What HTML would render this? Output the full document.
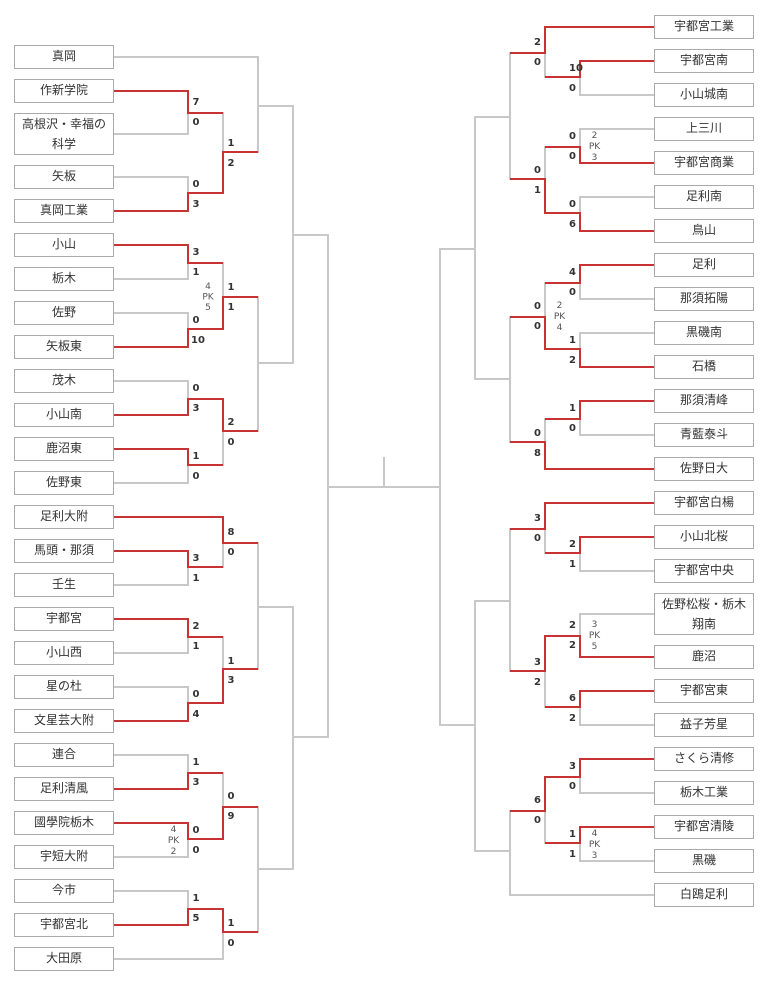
<!DOCTYPE html>
<html lang="ja">
<head>
<meta charset="utf-8">
<title>Tournament bracket</title>
<style>
html,body{margin:0;padding:0;background:#fff;}
svg{display:block;position:absolute;left:0;top:0;}
.g{fill:none;stroke:#c8c8c8;stroke-width:2;stroke-linecap:square;stroke-linejoin:miter;}
.r{fill:none;stroke:#c83232;stroke-width:2;stroke-linejoin:miter;}
rect{fill:#fff;stroke:#aaa;stroke-width:1;}
.t{font-family:"Liberation Sans","Noto Sans CJK JP",sans-serif;font-size:12px;fill:#333;text-anchor:middle;}
.s{font-family:"DejaVu Sans",sans-serif;font-size:10px;font-weight:bold;fill:#333;text-anchor:middle;}
.p{font-family:"DejaVu Sans",sans-serif;font-size:9px;fill:#555;text-anchor:middle;}
</style>
</head>
<body>
<svg xmlns="http://www.w3.org/2000/svg" width="771" height="983" viewBox="0 0 771 983">
<path class="g" d="M114 57H258V152M114 134H188V113M114 177H188V193M223 113V152M258 106H293M114 279H188V263M114 313H188V329M223 263V297M258 297V431M258 363H293M114 381H188V399M114 483H188V465M223 431V465M293 106V363M293 235H328M114 585H188V567M223 543V567M114 653H188V637M114 687H188V703M223 637V669M258 543V669M258 607H293M114 755H188V773M223 773V807M114 857H188V839M114 891H188V909M114 959H223V932M258 807V932M258 869H293M293 607V869M293 737H328M328 235V737M328 487H440M384 458V487M440 249V725"/>
<path class="g" d="M654 95H580V77M654 129H580V147M654 197H580V213M545 53V77M545 147V179M510 53V179M510 117H475M654 299H580V283M654 333H580V349M654 435H580V419M545 283V317M545 419V442M510 317V442M510 379H475M475 117V379M475 249H440M545 529V553M654 571H580V553M654 614H580V636M654 725H580V707M545 671V707M510 529V671M510 601H475M654 793H580V777M654 861H580V843M545 811V843M654 895H510V811M510 851H475M475 601V851M475 725H440"/>
<path class="r" d="M114 91H188V113H223M114 211H188V193H223V152H258M114 245H188V263H223M114 347H188V329H223V297H258M114 415H188V399H223V431H258M114 449H188V465H223M114 517H223V543H258M114 551H188V567H223M114 619H188V637H223M114 721H188V703H223V669H258M114 789H188V773H223M114 823H188V839H223V807H258M114 925H188V909H223V932H258"/>
<path class="r" d="M654 27H545V53H510M654 61H580V77H545M654 163H580V147H545M654 231H580V213H545V179H510M654 265H580V283H545M654 367H580V349H545V317H510M654 401H580V419H545M654 469H545V442H510M654 503H545V529H510M654 537H580V553H545M654 657H580V636H545V671H510M654 691H580V707H545M654 759H580V777H545V811H510M654 827H580V843H545"/>

<!-- left boxes -->
<rect x="14.5" y="45.5" width="99" height="23"/>
<rect x="14.5" y="79.5" width="99" height="23"/>
<rect x="14.5" y="113.5" width="99" height="41"/>
<rect x="14.5" y="165.5" width="99" height="23"/>
<rect x="14.5" y="199.5" width="99" height="23"/>
<rect x="14.5" y="233.5" width="99" height="23"/>
<rect x="14.5" y="267.5" width="99" height="23"/>
<rect x="14.5" y="301.5" width="99" height="23"/>
<rect x="14.5" y="335.5" width="99" height="23"/>
<rect x="14.5" y="369.5" width="99" height="23"/>
<rect x="14.5" y="403.5" width="99" height="23"/>
<rect x="14.5" y="437.5" width="99" height="23"/>
<rect x="14.5" y="471.5" width="99" height="23"/>
<rect x="14.5" y="505.5" width="99" height="23"/>
<rect x="14.5" y="539.5" width="99" height="23"/>
<rect x="14.5" y="573.5" width="99" height="23"/>
<rect x="14.5" y="607.5" width="99" height="23"/>
<rect x="14.5" y="641.5" width="99" height="23"/>
<rect x="14.5" y="675.5" width="99" height="23"/>
<rect x="14.5" y="709.5" width="99" height="23"/>
<rect x="14.5" y="743.5" width="99" height="23"/>
<rect x="14.5" y="777.5" width="99" height="23"/>
<rect x="14.5" y="811.5" width="99" height="23"/>
<rect x="14.5" y="845.5" width="99" height="23"/>
<rect x="14.5" y="879.5" width="99" height="23"/>
<rect x="14.5" y="913.5" width="99" height="23"/>
<rect x="14.5" y="947.5" width="99" height="23"/>

<!-- right boxes -->
<rect x="654.5" y="15.5" width="99" height="23"/>
<rect x="654.5" y="49.5" width="99" height="23"/>
<rect x="654.5" y="83.5" width="99" height="23"/>
<rect x="654.5" y="117.5" width="99" height="23"/>
<rect x="654.5" y="151.5" width="99" height="23"/>
<rect x="654.5" y="185.5" width="99" height="23"/>
<rect x="654.5" y="219.5" width="99" height="23"/>
<rect x="654.5" y="253.5" width="99" height="23"/>
<rect x="654.5" y="287.5" width="99" height="23"/>
<rect x="654.5" y="321.5" width="99" height="23"/>
<rect x="654.5" y="355.5" width="99" height="23"/>
<rect x="654.5" y="389.5" width="99" height="23"/>
<rect x="654.5" y="423.5" width="99" height="23"/>
<rect x="654.5" y="457.5" width="99" height="23"/>
<rect x="654.5" y="491.5" width="99" height="23"/>
<rect x="654.5" y="525.5" width="99" height="23"/>
<rect x="654.5" y="559.5" width="99" height="23"/>
<rect x="654.5" y="593.5" width="99" height="41"/>
<rect x="654.5" y="645.5" width="99" height="23"/>
<rect x="654.5" y="679.5" width="99" height="23"/>
<rect x="654.5" y="713.5" width="99" height="23"/>
<rect x="654.5" y="747.5" width="99" height="23"/>
<rect x="654.5" y="781.5" width="99" height="23"/>
<rect x="654.5" y="815.5" width="99" height="23"/>
<rect x="654.5" y="849.5" width="99" height="23"/>
<rect x="654.5" y="883.5" width="99" height="23"/>

<!-- left team names -->
<g class="t">
<text class="t" x="64" y="60">真岡</text>
<text class="t" x="64" y="94">作新学院</text>
<text class="t" x="64" y="128">高根沢・幸福の</text>
<text class="t" x="64" y="148">科学</text>
<text class="t" x="64" y="180">矢板</text>
<text class="t" x="64" y="214">真岡工業</text>
<text class="t" x="64" y="248">小山</text>
<text class="t" x="64" y="282">栃木</text>
<text class="t" x="64" y="316">佐野</text>
<text class="t" x="64" y="350">矢板東</text>
<text class="t" x="64" y="384">茂木</text>
<text class="t" x="64" y="418">小山南</text>
<text class="t" x="64" y="452">鹿沼東</text>
<text class="t" x="64" y="486">佐野東</text>
<text class="t" x="64" y="520">足利大附</text>
<text class="t" x="64" y="554">馬頭・那須</text>
<text class="t" x="64" y="588">壬生</text>
<text class="t" x="64" y="622">宇都宮</text>
<text class="t" x="64" y="656">小山西</text>
<text class="t" x="64" y="690">星の杜</text>
<text class="t" x="64" y="724">文星芸大附</text>
<text class="t" x="64" y="758">連合</text>
<text class="t" x="64" y="792">足利清風</text>
<text class="t" x="64" y="826">國學院栃木</text>
<text class="t" x="64" y="860">宇短大附</text>
<text class="t" x="64" y="894">今市</text>
<text class="t" x="64" y="928">宇都宮北</text>
<text class="t" x="64" y="962">大田原</text>
</g>

<!-- right team names -->
<g class="t">
<text class="t" x="704" y="30">宇都宮工業</text>
<text class="t" x="704" y="64">宇都宮南</text>
<text class="t" x="704" y="98">小山城南</text>
<text class="t" x="704" y="132">上三川</text>
<text class="t" x="704" y="166">宇都宮商業</text>
<text class="t" x="704" y="200">足利南</text>
<text class="t" x="704" y="234">鳥山</text>
<text class="t" x="704" y="268">足利</text>
<text class="t" x="704" y="302">那須拓陽</text>
<text class="t" x="704" y="336">黒磯南</text>
<text class="t" x="704" y="370">石橋</text>
<text class="t" x="704" y="404">那須清峰</text>
<text class="t" x="704" y="438">青藍泰斗</text>
<text class="t" x="704" y="472">佐野日大</text>
<text class="t" x="704" y="506">宇都宮白楊</text>
<text class="t" x="704" y="540">小山北桜</text>
<text class="t" x="704" y="574">宇都宮中央</text>
<text class="t" x="704" y="608">佐野松桜・栃木</text>
<text class="t" x="704" y="628">翔南</text>
<text class="t" x="704" y="660">鹿沼</text>
<text class="t" x="704" y="694">宇都宮東</text>
<text class="t" x="704" y="728">益子芳星</text>
<text class="t" x="704" y="762">さくら清修</text>
<text class="t" x="704" y="796">栃木工業</text>
<text class="t" x="704" y="830">宇都宮清陵</text>
<text class="t" x="704" y="864">黒磯</text>
<text class="t" x="704" y="898">白鴎足利</text>
</g>

<!-- left scores -->
<text class="s" x="196" y="105">7</text><text class="s" x="196" y="125">0</text>
<text class="s" x="231" y="146">1</text><text class="s" x="231" y="166">2</text>
<text class="s" x="196" y="187">0</text><text class="s" x="196" y="207">3</text>
<text class="s" x="196" y="255">3</text><text class="s" x="196" y="275">1</text>
<text class="s" x="231" y="290">1</text><text class="s" x="231" y="310">1</text>
<text class="s" x="196" y="323">0</text><text class="s" x="198" y="343">10</text>
<text class="s" x="196" y="391">0</text><text class="s" x="196" y="411">3</text>
<text class="s" x="231" y="425">2</text><text class="s" x="231" y="445">0</text>
<text class="s" x="196" y="459">1</text><text class="s" x="196" y="479">0</text>
<text class="s" x="231" y="535">8</text><text class="s" x="231" y="555">0</text>
<text class="s" x="196" y="561">3</text><text class="s" x="196" y="581">1</text>
<text class="s" x="196" y="629">2</text><text class="s" x="196" y="649">1</text>
<text class="s" x="231" y="664">1</text><text class="s" x="231" y="683">3</text>
<text class="s" x="196" y="697">0</text><text class="s" x="196" y="717">4</text>
<text class="s" x="196" y="765">1</text><text class="s" x="196" y="785">3</text>
<text class="s" x="231" y="799">0</text><text class="s" x="231" y="819">9</text>
<text class="s" x="196" y="833">0</text><text class="s" x="196" y="853">0</text>
<text class="s" x="196" y="901">1</text><text class="s" x="196" y="921">5</text>
<text class="s" x="231" y="926">1</text><text class="s" x="231" y="946">0</text>

<!-- right scores -->
<text class="s" x="537.5" y="45">2</text><text class="s" x="537.5" y="65">0</text>
<text class="s" x="576" y="71">10</text><text class="s" x="572.5" y="91">0</text>
<text class="s" x="572.5" y="139">0</text><text class="s" x="572.5" y="159">0</text>
<text class="s" x="537.5" y="173">0</text><text class="s" x="537.5" y="193">1</text>
<text class="s" x="572.5" y="207">0</text><text class="s" x="572.5" y="227">6</text>
<text class="s" x="572.5" y="275">4</text><text class="s" x="572.5" y="295">0</text>
<text class="s" x="537.5" y="309">0</text><text class="s" x="537.5" y="329">0</text>
<text class="s" x="572.5" y="343">1</text><text class="s" x="572.5" y="363">2</text>
<text class="s" x="572.5" y="411">1</text><text class="s" x="572.5" y="431">0</text>
<text class="s" x="537.5" y="436">0</text><text class="s" x="537.5" y="456">8</text>
<text class="s" x="537.5" y="521">3</text><text class="s" x="537.5" y="541">0</text>
<text class="s" x="572.5" y="547">2</text><text class="s" x="572.5" y="567">1</text>
<text class="s" x="572.5" y="628">2</text><text class="s" x="572.5" y="648">2</text>
<text class="s" x="537.5" y="665">3</text><text class="s" x="537.5" y="685">2</text>
<text class="s" x="572.5" y="701">6</text><text class="s" x="572.5" y="721">2</text>
<text class="s" x="572.5" y="769">3</text><text class="s" x="572.5" y="789">0</text>
<text class="s" x="537.5" y="803">6</text><text class="s" x="537.5" y="823">0</text>
<text class="s" x="572.5" y="837">1</text><text class="s" x="572.5" y="857">1</text>

<!-- PK -->
<text class="p" x="208" y="289">4</text><text class="p" x="208" y="299.5">PK</text><text class="p" x="208" y="310">5</text>
<text class="p" x="173.5" y="832">4</text><text class="p" x="173.5" y="843">PK</text><text class="p" x="173.5" y="854">2</text>
<text class="p" x="594.5" y="138">2</text><text class="p" x="594.5" y="149">PK</text><text class="p" x="594.5" y="160">3</text>
<text class="p" x="559.5" y="308">2</text><text class="p" x="559.5" y="319">PK</text><text class="p" x="559.5" y="330">4</text>
<text class="p" x="594.5" y="627">3</text><text class="p" x="594.5" y="638">PK</text><text class="p" x="594.5" y="649">5</text>
<text class="p" x="594.5" y="836">4</text><text class="p" x="594.5" y="847">PK</text><text class="p" x="594.5" y="858">3</text>
</svg>
</body>
</html>
